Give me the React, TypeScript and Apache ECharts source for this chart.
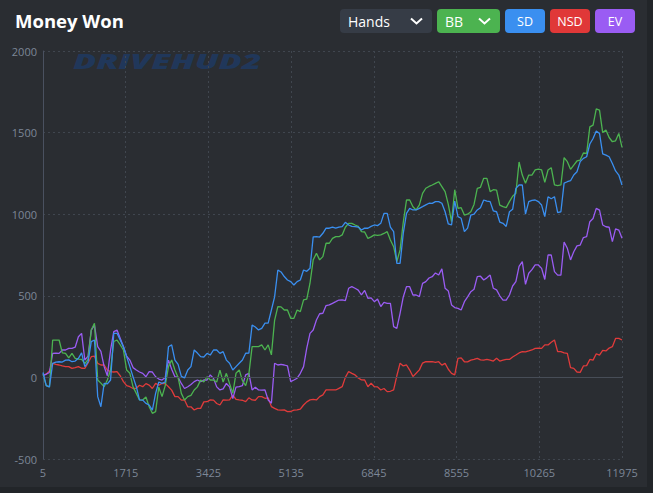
import React, { useEffect, useRef } from "react";
import * as echarts from "echarts";

const hands = [
  5, 72, 138, 205, 271, 338, 404, 471, 537, 604,
  670, 737, 803, 870, 936, 1003, 1069, 1136, 1202, 1269,
  1335, 1402, 1468, 1535, 1601, 1668, 1734, 1801, 1867, 1934,
  2000, 2067, 2133, 2200, 2266, 2333, 2399, 2466, 2532, 2599,
  2665, 2732, 2798, 2865, 2931, 2998, 3064, 3131, 3197, 3264,
  3330, 3397, 3463, 3530, 3596, 3663, 3729, 3796, 3862, 3929,
  3995, 4062, 4128, 4195, 4261, 4328, 4394, 4461, 4527, 4594,
  4660, 4727, 4793, 4860, 4926, 4993, 5059, 5126, 5192, 5259,
  5325, 5392, 5458, 5525, 5591, 5658, 5724, 5791, 5857, 5924,
  5990, 6057, 6123, 6190, 6256, 6323, 6389, 6456, 6522, 6589,
  6655, 6722, 6788, 6855, 6921, 6988, 7054, 7121, 7187, 7254,
  7320, 7387, 7453, 7520, 7586, 7653, 7719, 7786, 7852, 7919,
  7985, 8052, 8118, 8185, 8251, 8318, 8384, 8451, 8517, 8584,
  8650, 8717, 8783, 8850, 8916, 8983, 9049, 9116, 9182, 9249,
  9315, 9382, 9448, 9515, 9581, 9648, 9714, 9781, 9847, 9914,
  9980, 10047, 10113, 10180, 10246, 10313, 10379, 10446, 10512, 10579,
  10645, 10712, 10778, 10845, 10911, 10978, 11044, 11111, 11177, 11244,
  11310, 11377, 11443, 11510, 11576, 11643, 11709, 11776, 11842, 11909,
  11975,
];

// Showdown winnings (blue)
const sdWon = [
  30, -50, -58, 86, 94, 96, 94, 106, 107, 96,
  100, 117, 150, 66, 94, 219, 229, -118, -180, -37,
  -40, -16, 270, 270, 230, 188, 127, 66, 3, -57,
  -138, -139, -159, -169, -200, -98, -28, -37, -28, 188,
  199, 106, 80, 6, -3, 45, 66, 168, 149, 127,
  125, 147, 137, 168, 168, 147, 158, 106, 87, 45,
  66, 87, 107, 148, 149, 321, 309, 291, 300, 332,
  333, 413, 493, 658, 646, 618, 597, 587, 566, 587,
  597, 658, 650, 669, 861, 863, 860, 883, 915, 914,
  921, 914, 921, 924, 950, 934, 925, 924, 921, 903,
  915, 914, 925, 934, 930, 944, 1005, 1005, 921, 893,
  699, 699, 882, 1005, 1036, 1026, 1026, 1036, 1046, 1057,
  1067, 1066, 1077, 1077, 1067, 1015, 940, 934, 1080, 985,
  975, 893, 915, 995, 1000, 1026, 1040, 1087, 1080, 1077,
  1020, 1015, 952, 944, 925, 1015, 1030, 1158, 1179, 1179,
  1000, 1077, 1085, 1087, 1077, 1056, 985, 1107, 1095, 1107,
  1010, 1015, 1190, 1199, 1205, 1240, 1260, 1322, 1342, 1352,
  1430, 1464, 1510, 1495, 1370, 1362, 1352, 1311, 1265, 1240,
  1179,
];

// Total winnings in BB (green)
const bbWon = [
  20, -50, -58, 229, 229, 229, 150, 147, 120, 147,
  117, 112, 110, 85, 110, 290, 332, -16, -35, -57,
  -16, 45, 220, 229, 200, 168, 45, 25, -58, -98,
  -138, -139, -120, -180, -220, -210, -60, -118, -50, 66,
  107, 45, 0, -98, -138, -118, -110, -77, -58, -16,
  -28, 4, -16, -16, -28, 45, -28, 25, -38, -98,
  25, 46, -20, -50, 20, 189, 188, 189, 199, 168,
  199, 138, 350, 434, 432, 413, 413, 362, 362, 413,
  403, 475, 480, 577, 720, 760, 720, 740, 822, 822,
  852, 863, 862, 873, 920, 944, 944, 934, 925, 893,
  891, 852, 861, 873, 870, 873, 882, 893, 842, 801,
  710, 781, 950, 1087, 1087, 1046, 1026, 1057, 1128, 1159,
  1170, 1179, 1189, 1199, 1169, 1138, 1060, 954, 1150, 1036,
  1040, 995, 1000, 1015, 1060, 1158, 1165, 1220, 1220, 1138,
  1150, 1148, 1056, 1046, 1040, 1077, 1110, 1128, 1320, 1240,
  1190, 1240, 1240, 1271, 1276, 1271, 1195, 1271, 1285, 1179,
  1175, 1179, 1347, 1322, 1275, 1301, 1326, 1332, 1375, 1373,
  1535, 1546, 1645, 1638, 1500, 1516, 1470, 1444, 1450, 1495,
  1410,
];

// Non-showdown winnings (red)
const nsdWon = [
  15, 20, 40, 86, 80, 76, 70, 66, 66, 55,
  60, 66, 56, 55, 88, 127, 130, 86, 76, 76,
  45, 35, 33, 35, 10, -26, -50, -57, -68, -67,
  -48, -57, -38, -47, -68, -37, -48, -37, -38, -57,
  -78, -118, -118, -139, -138, -180, -180, -200, -190, -190,
  -150, -149, -138, -139, -160, -169, -138, -139, -138, -108,
  -135, -138, -140, -148, -125, -138, -140, -118, -118, -128,
  -125, -179, -190, -199, -200, -199, -210, -209, -200, -199,
  -195, -169, -150, -138, -135, -138, -118, -107, -77, -77,
  -77, -77, -67, -57, 0, 36, 25, 15, -4, -15,
  -16, -57, -35, -57, -58, -77, -68, -87, -85, -77,
  10, 87, 70, 76, 45, 5, 25, 46, 88, 97,
  96, 96, 92, 96, 75, 86, 50, 25, 15, 117,
  120, 96, 95, 106, 110, 117, 107, 106, 110, 106,
  100, 117, 100, 106, 110, 110, 125, 137, 150, 158,
  156, 162, 168, 178, 180, 178, 199, 199, 215, 229,
  158, 158, 150, 147, 60, 55, 33, 31, 70, 72,
  110, 106, 145, 137, 165, 162, 180, 188, 239, 239,
  229,
];

// All-in EV winnings (purple)
const evWon = [
  10, 20, 30, 147, 149, 147, 168, 168, 178, 178,
  185, 249, 270, 106, 130, 290, 320, 188, 160, 66,
  10, 168, 280, 290, 240, 188, 130, 106, 60, 45,
  33, 25, 4, 35, 33, 4, -10, -16, 0, 106,
  50, 4, 0, -37, -68, -57, -44, -26, -16, -26,
  -16, -16, 15, -6, -58, -77, -70, -37, -58, -129,
  -60, -56, -50, 15, 25, -77, -60, -77, -78, -77,
  -138, -158, 87, 76, 80, 76, 70, -26, -16, -5,
  25, 66, 180, 270, 290, 352, 390, 393, 440, 444,
  454, 464, 474, 475, 470, 546, 556, 546, 535, 505,
  533, 485, 487, 464, 480, 434, 460, 454, 454, 311,
  300, 393, 493, 556, 556, 505, 505, 495, 576, 587,
  609, 617, 640, 627, 665, 546, 530, 444, 428, 423,
  413, 464, 494, 525, 540, 617, 620, 597, 610, 627,
  546, 536, 500, 474, 474, 505, 560, 587, 680, 709,
  570, 638, 660, 689, 689, 668, 600, 750, 750, 648,
  627, 627, 830, 791, 720, 770, 806, 811, 857, 862,
  954, 974, 1036, 1025, 934, 923, 920, 832, 910, 903,
  852,
];

const xTickLabels = ["5", "1715", "3425", "5135", "6845", "8555", "10265", "11975"];
const seriesNames = ["SD", "NSD", "EV", "BB"];

const FONT = "'Open Sans', 'Noto Sans', sans-serif";

export default function App() {
  const ref = useRef<HTMLDivElement>(null);

  useEffect(() => {
    document.body.style.margin = "0";
    document.body.style.background = "#222529";
    const chart = echarts.init(ref.current!, null, { renderer: "svg" });

    const toPairs = (vals: number[]) => vals.map((v, i) => [hands[i] - 5, v]);

    const lineSeries = (name: string, vals: number[], color: string, z: number, extra: any = {}) => ({
      name,
      type: "line",
      data: toPairs(vals),
      showSymbol: false,
      symbol: "none",
      lineStyle: { color, width: 1.3 },
      itemStyle: { color },
      z,
      ...extra,
    });

    const btn = (x: number, w: number, fill: string, label: string, chevron: boolean) => {
      const children: any[] = [
        {
          type: "rect",
          shape: { x, y: 9, width: w, height: 24, r: 4 },
          style: { fill },
        },
        {
          type: "text",
          x: chevron ? x + 8 : x + w / 2,
          y: 21,
          style: {
            text: label,
            fill: "#ffffff",
            font: `400 ${chevron ? 14 : 12.5}px ${FONT}`,
            textAlign: chevron ? "left" : "center",
            textVerticalAlign: "middle",
          },
        },
      ];
      if (chevron) {
        children.push({
          type: "polyline",
          shape: { points: [[x + w - 21, 18.5], [x + w - 15.5, 23.5], [x + w - 10, 18.5]] },
          style: { stroke: "#ffffff", lineWidth: 2, fill: "none" },
        });
      }
      return { type: "group", children };
    };

    chart.setOption({
      animation: false,
      backgroundColor: "#222529",
      textStyle: { fontFamily: FONT },
      grid: { left: 43, right: 31, top: 51, bottom: 34, containLabel: false },
      xAxis: {
        type: "value",
        min: 0,
        max: 11970,
        interval: 1710,
        axisLine: { show: true, lineStyle: { color: "#4a5160", width: 1 } },
        axisTick: { show: false },
        axisLabel: {
          color: "#7d8797",
          fontSize: 11,
          margin: 8,
          formatter: (v: number) => {
            const idx = Math.round(v / 1710);
            return xTickLabels[idx] ?? String(v + 5);
          },
        },
        splitLine: { show: true, lineStyle: { color: "#40464f", type: [2, 3] } },
      },
      yAxis: {
        type: "value",
        min: -500,
        max: 2000,
        interval: 500,
        axisLine: { show: true, lineStyle: { color: "#4a5160", width: 1 } },
        axisTick: { show: false },
        axisLabel: { color: "#7d8797", fontSize: 11, margin: 6, formatter: (v: number) => String(v) },
        splitLine: { show: true, lineStyle: { color: "#40464f", type: [2, 3] } },
      },
      graphic: [
        {
          type: "rect",
          z: -10,
          silent: true,
          shape: { x: 0, y: 0, width: 647, height: 487 },
          style: { fill: "#2a2d32" },
        },
        {
          type: "text",
          z: -5,
          x: 73,
          y: 61,
          scaleX: 1.62,
          silent: true,
          style: {
            text: "DRIVEHUD2",
            fill: "#1f3a62",
            opacity: 0.85,
            font: `italic 900 21px ${FONT}`,
            textVerticalAlign: "middle",
          },
        },
        {
          type: "text",
          x: 15,
          y: 20,
          style: {
            text: "Money Won",
            fill: "#ffffff",
            font: `700 18.5px ${FONT}`,
            textVerticalAlign: "middle",
          },
        },
        btn(340, 92, "#363c46", "Hands", true),
        btn(437, 63, "#4cb350", "BB", true),
        btn(505, 40, "#3a8ff0", seriesNames[0], false),
        btn(550, 40, "#e03838", seriesNames[1], false),
        btn(595, 40, "#9a5cf3", seriesNames[2], false),
      ],
      series: [
        lineSeries(seriesNames[1], nsdWon, "#e03b3b", 2, {
          markLine: {
            silent: true,
            symbol: "none",
            label: { show: false },
            lineStyle: { color: "#474d57", type: "solid", width: 1 },
            data: [{ yAxis: 0 }],
          },
        }),
        lineSeries(seriesNames[2], evWon, "#9a5cf3", 3),
        lineSeries(seriesNames[3], bbWon, "#4cb350", 4),
        lineSeries(seriesNames[0], sdWon, "#3a8ff0", 5),
      ],
    });

    return () => chart.dispose();
  }, []);

  return <div ref={ref} style={{ width: 653, height: 493 }} />;
}
